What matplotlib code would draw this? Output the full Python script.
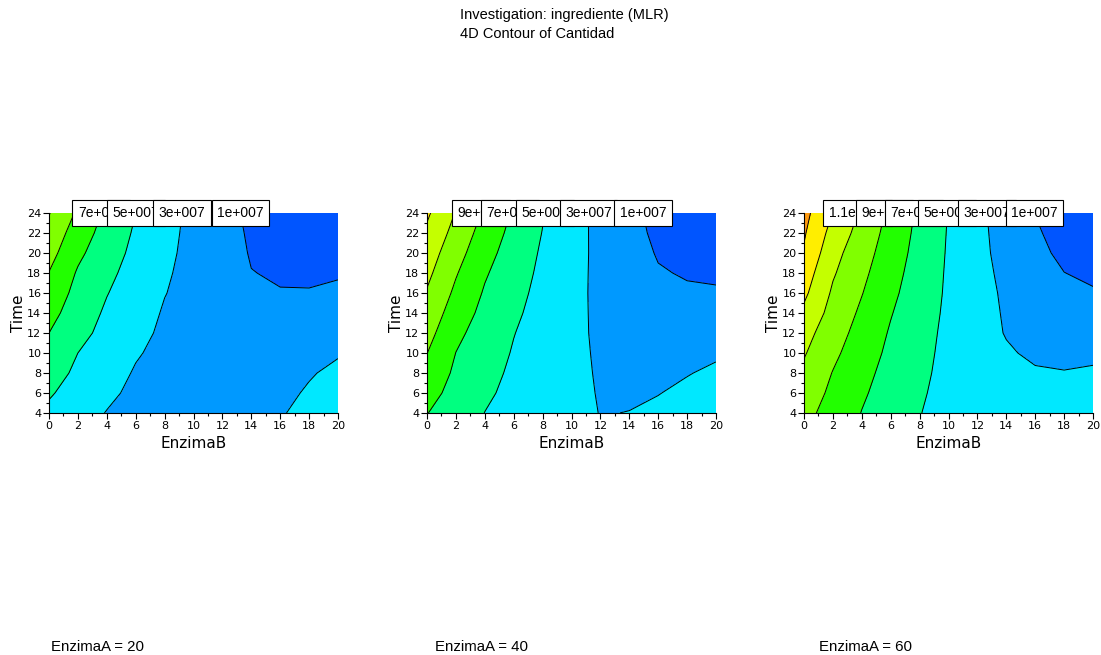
import numpy as np
import matplotlib
matplotlib.use("Agg")
import matplotlib.pyplot as plt
from matplotlib.ticker import MultipleLocator

# grid axes
enzima_b = [0, 2, 4, 6, 8, 10, 12, 14, 16, 18, 20]
time_h = [4, 6, 8, 10, 12, 14, 16, 18, 20, 22, 24]
scale = 1e7  # grid values below are in units of 1e7

# Cantidad, rows = time_h, cols = enzima_b
cant_a20 = [
    [4.6, 3.67, 2.94, 2.41, 2.09, 1.97, 2.06, 2.35, 2.85, 3.54, 4.45],
    [5.2, 4.23, 3.32, 2.65, 2.2, 2.05, 2.03, 2.2, 2.55, 3.2, 3.9],
    [5.8, 4.64, 3.73, 2.85, 2.35, 2.1, 2.0, 2.05, 2.3, 2.85, 3.39],
    [6.4, 5.0, 4.07, 3.15, 2.55, 2.12, 1.9, 1.87, 2.0, 2.4, 2.85],
    [7.0, 5.58, 4.43, 3.48, 2.7, 2.15, 1.82, 1.7, 1.78, 2.0, 2.35],
    [7.65, 6.0, 4.73, 3.76, 2.85, 2.3, 1.78, 1.45, 1.4, 1.5, 1.8],
    [8.3, 6.4, 5.07, 4.05, 3.05, 2.45, 1.75, 1.25, 1.05, 1.05, 1.29],
    [8.95, 6.8, 5.44, 4.28, 3.21, 2.46, 1.72, 1.03, 0.88, 0.85, 0.85],
    [9.7, 7.4, 5.84, 4.54, 3.4, 2.47, 1.67, 0.9, 0.7, 0.5, 0.4],
    [10.35, 8.03, 6.21, 4.76, 3.55, 2.5, 1.61, 0.8, 0.5, 0.3, 0.2],
    [11.1, 8.7, 6.6, 5.0, 3.7, 2.54, 1.56, 0.66, 0.3, 0.1, 0.0],
]
cant_a40 = [
    [7.05, 6.0, 4.98, 4.48, 3.98, 3.48, 2.96, 3.02, 3.35, 3.75, 4.3],
    [7.7, 6.35, 5.27, 4.57, 4.0, 3.44, 2.9, 2.85, 2.95, 3.35, 3.78],
    [8.35, 6.67, 5.58, 4.69, 4.05, 3.4, 2.85, 2.7, 2.67, 2.92, 3.29],
    [9.03, 6.98, 5.86, 4.87, 4.14, 3.42, 2.78, 2.52, 2.38, 2.5, 2.77],
    [9.67, 7.44, 6.14, 5.05, 4.24, 3.44, 2.7, 2.35, 2.1, 2.1, 2.25],
    [10.26, 8.05, 6.46, 5.3, 4.36, 3.48, 2.65, 2.18, 1.73, 1.65, 1.7],
    [10.85, 8.62, 6.81, 5.56, 4.48, 3.52, 2.6, 2.0, 1.36, 1.19, 1.16],
    [11.45, 9.15, 7.2, 5.83, 4.62, 3.56, 2.59, 1.85, 1.12, 0.88, 0.76],
    [12.0, 9.74, 7.68, 6.1, 4.77, 3.61, 2.58, 1.7, 0.88, 0.6, 0.42],
    [12.65, 10.32, 8.18, 6.42, 4.95, 3.66, 2.54, 1.58, 0.65, 0.4, 0.21],
    [13.3, 10.9, 8.7, 6.76, 5.12, 3.72, 2.5, 1.45, 0.5, 0.2, 0.0],
]
cant_a60 = [
    [9.56, 8.25, 6.95, 6.0, 5.05, 4.4, 3.95, 3.7, 3.6, 3.65, 3.85],
    [10.08, 8.59, 7.24, 6.19, 5.2, 4.45, 3.9, 3.6, 3.39, 3.35, 3.52],
    [10.6, 8.93, 7.54, 6.38, 5.36, 4.5, 3.85, 3.5, 3.18, 3.06, 3.2],
    [11.16, 9.41, 7.91, 6.6, 5.5, 4.55, 3.81, 3.2, 2.7, 2.65, 2.68],
    [11.7, 9.86, 8.28, 6.82, 5.63, 4.61, 3.78, 2.9, 2.57, 2.25, 2.17],
    [12.6, 10.29, 8.67, 7.1, 5.82, 4.67, 3.72, 2.81, 2.28, 1.84, 1.66],
    [13.4, 10.72, 9.07, 7.41, 6.0, 4.73, 3.65, 2.72, 2.0, 1.43, 1.15],
    [14.0, 11.2, 9.44, 7.7, 6.15, 4.77, 3.56, 2.58, 1.75, 1.02, 0.69],
    [14.8, 11.64, 9.82, 8.0, 6.32, 4.82, 3.49, 2.41, 1.47, 0.62, 0.25],
    [15.2, 12.3, 10.24, 8.28, 6.47, 4.87, 3.46, 2.29, 1.22, 0.34, 0.02],
    [15.6, 12.94, 10.68, 8.55, 6.62, 4.93, 3.43, 2.15, 0.97, 0.05, -0.2],
]
enzima_a = [20, 40, 60]

levels = [1e7, 3e7, 5e7, 7e7, 9e7, 1.1e8, 1.3e8, 1.5e8]
band_colors = ["#0055ff", "#0099ff", "#00e8ff", "#00ff80", "#22ff00",
               "#80ff00", "#c4ff00", "#ffee00", "#ff9a10"]


def old_exp(v):
    s = "%.2g" % v
    m, e = s.split("e")
    return "%se%s%03d" % (m, e[0], int(e[1:]))


fig = plt.figure(figsize=(11.01, 6.55), dpi=100)
fig.text(460 / 1101, 1 - 15 / 655, "Investigation: ingrediente (MLR)",
         family="Liberation Sans", fontsize=10.5, va="center")
fig.text(460 / 1101, 1 - 34 / 655, "4D Contour of Cantidad",
         family="Liberation Sans", fontsize=10.5, va="center")

lefts = [49, 427, 804]
foot_x = [51, 435, 819]
B = np.array(enzima_b)
T = np.array(time_h)
for i, grid in enumerate([cant_a20, cant_a40, cant_a60]):
    Z = np.array(grid) * scale
    ax = fig.add_axes([lefts[i] / 1101, 242 / 655, 289 / 1101, 200 / 655])
    fill_levels = [-1e9] + levels + [1e9]
    ax.contourf(B, T, Z, levels=fill_levels, colors=band_colors)
    ax.contour(B, T, Z, levels=levels, colors="black", linewidths=0.7)
    ax.set_xlim(0, 20)
    ax.set_ylim(4, 24)
    for s in ["top", "right"]:
        ax.spines[s].set_visible(False)
    ax.spines["left"].set_linewidth(0.8)
    ax.spines["bottom"].set_linewidth(0.8)
    ax.xaxis.set_major_locator(MultipleLocator(2))
    ax.xaxis.set_minor_locator(MultipleLocator(1))
    ax.yaxis.set_major_locator(MultipleLocator(2))
    ax.yaxis.set_minor_locator(MultipleLocator(1))
    ax.tick_params(which="major", direction="out", length=4, width=0.8,
                   labelsize=8, pad=1.5)
    ax.tick_params(which="minor", direction="out", length=2, width=0.8)
    ax.set_xlabel("EnzimaB", fontsize=11, labelpad=4)
    ax.set_ylabel("Time", fontsize=11, labelpad=1)

    # level labels where the lines meet the top edge
    top = Z[-1]
    z = 10
    for lev in sorted(levels, reverse=True):
        if lev > top.max() or lev < top.min():
            continue
        xc = np.interp(lev, top[::-1], B[::-1])
        if xc < 2.5:
            continue
        ax.text(xc, 24, old_exp(lev), ha="center", va="center", fontsize=10,
                family="Liberation Sans", clip_on=False, zorder=z,
                bbox=dict(boxstyle="square,pad=0.4", fc="white", ec="black", lw=0.8))
        z += 1

    fig.text(foot_x[i] / 1101, 1 - 647 / 655, "EnzimaA = %d" % enzima_a[i],
             family="Liberation Sans", fontsize=10.8, va="center")

fig.savefig("out.png", dpi=100)
